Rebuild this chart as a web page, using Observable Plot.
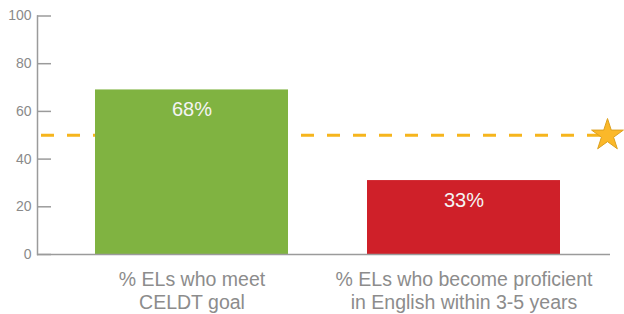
<!DOCTYPE html>
<html><head><meta charset="utf-8">
<script src="https://cdn.jsdelivr.net/npm/d3@7"></script>
<script src="https://cdn.jsdelivr.net/npm/@observablehq/plot@0.6"></script>
<style>body{margin:0;background:#fff} #chart svg{display:block}</style>
</head><body><div id="chart"></div>
<script>
const categories = ["% ELs who meet\nCELDT goal", "% ELs who become proficient\nin English within 3-5 years"];
const barValues = [69, 31];
const barLabels = ["68%", "33%"];
const barColors = ["#80b341", "#cf2029"];
const goal = [50];
const yTicks = [0, 20, 40, 60, 80, 100];

const data = categories.map((c, i) => ({category: c, value: barValues[i], label: barLabels[i], color: barColors[i]}));

const W = 624, ML = 37, MR = 14;
const chart = Plot.plot({
  width: W, height: 314,
  marginLeft: ML, marginRight: MR, marginTop: 15.5, marginBottom: 60,
  style: {fontFamily: "Helvetica, 'Liberation Sans', Arial, sans-serif", background: "#fff"},
  x: {domain: categories, paddingInner: 0.29, paddingOuter: 0.196, align: 0.542, axis: null},
  y: {domain: [0, 100], axis: null},
  color: {type: "identity"},
  marks: [
    Plot.ruleY(goal, {y: d => d, stroke: "#f6b51d", strokeWidth: 3, strokeDasharray: "13,13", strokeDashoffset: 22}),
    Plot.barY(data, {x: "category", y: "value", fill: "color"}),
    Plot.text(data, {x: "category", y: "value", text: "label", dy: 20, fill: "#f4f4f4", fontSize: 20, fontWeight: 300}),
    Plot.ruleY(yTicks, {y: d => d, stroke: "#9b9b9b", strokeWidth: 1.5, insetRight: (W - ML - MR) - 14}),
    Plot.ruleY([0], {stroke: "#9b9b9b", strokeWidth: 1.5}),
    Plot.frame({anchor: "left", stroke: "#9b9b9b", strokeWidth: 1.5}),
    Plot.axisY(yTicks, {tickSize: 0, tickPadding: 6, fill: "#8a8a8a", fontSize: 14, label: null}),
    Plot.axisX({tickSize: 0, tickPadding: 15, fontSize: 19.5, lineHeight: 1.17, fill: "#8c8c8c", label: null}),
    Plot.dot(goal, {y: d => d, frameAnchor: "right", dx: -3, symbol: "star", r: 10, fill: "#fbb829", stroke: "#dca11f", strokeWidth: 1})
  ]
});
document.getElementById("chart").appendChild(chart);
</script>
</body></html>
